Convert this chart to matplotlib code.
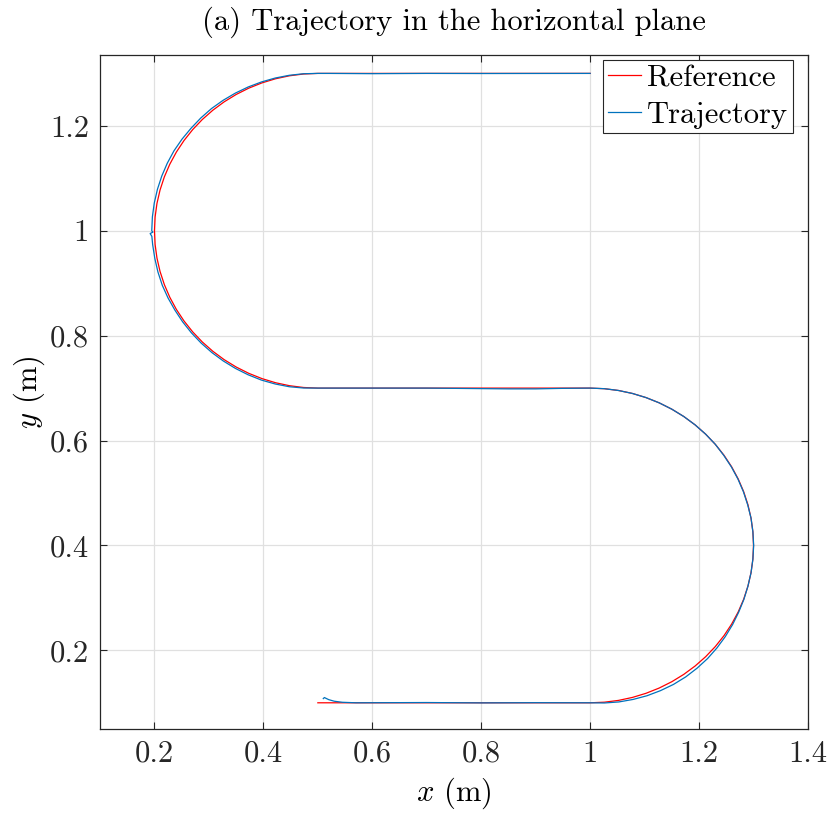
import matplotlib
matplotlib.use("Agg")
import numpy as np
import matplotlib.pyplot as plt

plt.rcParams["font.family"] = "serif"
plt.rcParams["font.serif"] = ["cmr10", "DejaVu Serif"]
plt.rcParams["mathtext.fontset"] = "cm"
plt.rcParams["axes.formatter.use_mathtext"] = True

FS = 22

# Turn centres (m) and nominal reference radius (m)
right_turn_center = (1.0, 0.4)
left_turn_center = (0.5, 1.0)
ref_radius = 0.3

# Polar samples along the turns (deg, measured from +x for the right turn,
# mirrored for the left turn)
turn_angles = [-90, -85, -80, -75, -70, -65, -60, -55, -50, -45, -40, -35,
               -30, -25, -20, -15, -10, -5, 0, 5, 10, 15, 20, 25, 30, 35,
               40, 45, 50, 55, 60, 65, 70, 75, 80, 85, 90]

# Trajectory radius on the right turn
traj_right_angles = turn_angles
traj_right_radius = [0.300, 0.3015, 0.303, 0.304, 0.305, 0.3055, 0.306, 0.306,
                     0.3055, 0.305, 0.304, 0.303, 0.302, 0.301, 0.3005, 0.300,
                     0.300, 0.300, 0.3003, 0.300, 0.300, 0.2995, 0.2995, 0.2995,
                     0.2995, 0.2995, 0.300, 0.300, 0.300, 0.300, 0.300, 0.300,
                     0.300, 0.300, 0.300, 0.300, 0.300]

# Trajectory radius on the left turn (includes a short glitch near y = 1)
traj_left_angles = [-90, -85, -80, -75, -70, -65, -60, -55, -50, -45, -40, -35,
                    -30, -25, -20, -15, -10, -5, -2, -1, -0.5, 0, 5, 10, 15,
                    20, 25, 30, 35, 40, 45, 50, 55, 60, 65, 70, 75, 80, 85, 90]
traj_left_radius = [0.300, 0.301, 0.302, 0.3025, 0.303, 0.303, 0.303, 0.303,
                    0.303, 0.303, 0.303, 0.303, 0.303, 0.3035, 0.304, 0.304,
                    0.304, 0.3045, 0.305, 0.308, 0.303, 0.305, 0.305, 0.305,
                    0.305, 0.305, 0.305, 0.305, 0.3045, 0.304, 0.304, 0.304,
                    0.3035, 0.303, 0.3025, 0.302, 0.3015, 0.301, 0.3005, 0.300]

# Straight legs of the reference
ref_bottom_x = [0.5, 1.0]
ref_bottom_y = [0.1, 0.1]
ref_middle_x = [1.0, 0.5]
ref_middle_y = [0.7, 0.7]
ref_top_x = [0.5, 1.0]
ref_top_y = [1.3, 1.3]

# Straight legs of the measured trajectory
traj_bottom_x = [0.510, 0.512, 0.520, 0.530, 0.545, 0.570, 0.700, 0.800, 0.900, 1.000]
traj_bottom_y = [0.108, 0.110, 0.106, 0.103, 0.101, 0.100, 0.1005, 0.0998, 0.1002, 0.100]
traj_middle_x = [1.0, 0.95, 0.90, 0.85, 0.80, 0.75, 0.70, 0.5]
traj_middle_y = [0.7, 0.6995, 0.6985, 0.6985, 0.699, 0.6995, 0.7, 0.7]
traj_top_x = [0.5, 0.52, 0.60, 0.70, 0.80, 1.00]
traj_top_y = [1.3, 1.300, 1.2995, 1.300, 1.2998, 1.300]


def turn_xy(center, angles, radius, side):
    a = np.radians(np.asarray(angles, dtype=float))
    r = np.asarray(radius, dtype=float)
    return center[0] + side * r * np.cos(a), center[1] + r * np.sin(a)


rrx, rry = turn_xy(right_turn_center, turn_angles, ref_radius, +1)
rlx, rly = turn_xy(left_turn_center, turn_angles, ref_radius, -1)
ref_x = np.concatenate([ref_bottom_x, rrx, ref_middle_x, rlx, ref_top_x])
ref_y = np.concatenate([ref_bottom_y, rry, ref_middle_y, rly, ref_top_y])

trx, tr_y = turn_xy(right_turn_center, traj_right_angles, traj_right_radius, +1)
tlx, tl_y = turn_xy(left_turn_center, traj_left_angles, traj_left_radius, -1)
traj_x = np.concatenate([traj_bottom_x, trx, traj_middle_x, tlx, traj_top_x])
traj_y = np.concatenate([traj_bottom_y, tr_y, traj_middle_y, tl_y, traj_top_y])

fig = plt.figure(figsize=(8.28, 8.13), dpi=100)
ax = fig.add_axes([0.1208, 0.1033, 0.8550, 0.8290])

ax.plot(ref_x, ref_y, color=(1, 0, 0), lw=0.9, label="Reference")
ax.plot(traj_x, traj_y, color=(0, 0.447, 0.741), lw=0.9, label="Trajectory")

ax.set_xlim(0.1, 1.4)
ax.set_ylim(0.05, 1.335)
ax.set_xticks([0.2, 0.4, 0.6, 0.8, 1.0, 1.2, 1.4])
ax.set_xticklabels(["0.2", "0.4", "0.6", "0.8", "1", "1.2", "1.4"])
ax.set_yticks([0.2, 0.4, 0.6, 0.8, 1.0, 1.2])
ax.set_yticklabels(["0.2", "0.4", "0.6", "0.8", "1", "1.2"])

ax.grid(True, color=(0.88, 0.88, 0.88), lw=0.9)
ax.set_axisbelow(True)
ax.tick_params(direction="in", length=5, width=0.8, colors=(0.15, 0.15, 0.15),
               top=True, right=True, labelsize=FS, pad=8)
for sp in ax.spines.values():
    sp.set_color((0.15, 0.15, 0.15))
    sp.set_linewidth(0.9)

ax.set_xlabel(r"$x$ (m)", fontsize=FS, labelpad=6)
ax.set_ylabel(r"$y$ (m)", fontsize=FS, labelpad=2)
ax.set_title("(a) Trajectory in the horizontal plane", fontsize=FS, pad=18)

leg = ax.legend(loc="upper right", bbox_to_anchor=(0.979, 0.9926),
                fontsize=FS, frameon=True, fancybox=False,
                edgecolor=(0.15, 0.15, 0.15), framealpha=1, handlelength=1.1,
                handletextpad=0.2, borderpad=0.15, labelspacing=0.3,
                borderaxespad=0.0)
leg.get_frame().set_linewidth(0.8)

fig.savefig("out.png", dpi=100)
